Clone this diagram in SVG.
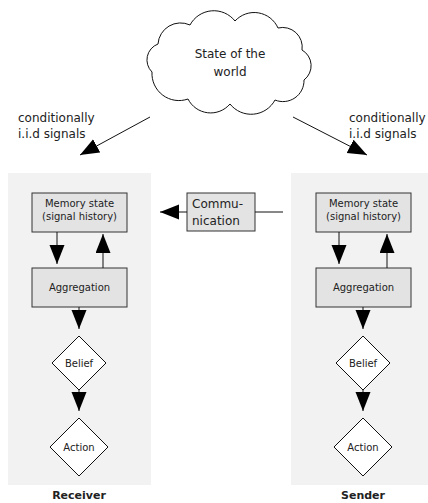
<svg xmlns="http://www.w3.org/2000/svg" width="428" height="503" viewBox="0 0 428 503">
<defs>
<style>
text{font-family:"DejaVu Sans","Liberation Sans",sans-serif;fill:#222;}
.panel{fill:#f2f2f2;stroke:none;}
.box{fill:#e3e3e3;stroke:#333;stroke-width:1;}
.dia{fill:#fff;stroke:#111;stroke-width:1;}
.cloud{fill:#fff;stroke:#111;stroke-width:1;}
.edge{stroke:#111;stroke-width:1;fill:none;}
.lbl{font-size:12px;}
.small{font-size:10px;}
.title{font-size:11px;font-weight:bold;}
</style>
<marker id="ah" markerUnits="userSpaceOnUse" markerWidth="20" markerHeight="16" refX="19" refY="7.5" orient="auto">
<path d="M0,0 L19,7.5 L0,15 z" fill="#000"/>
</marker>
</defs>
<rect class="panel" x="8" y="173" width="143" height="312"/>
<rect class="panel" x="291" y="173" width="137" height="312"/>
<g id="world">
<path class="cloud" d="M152,72 A17,17 0 0 1 158,44 A22.6,22.6 0 0 1 190,25 A27,27 0 0 1 235,21 A26,26 0 0 1 278,28 A19.6,19.6 0 0 1 302,50 A18,18 0 0 1 304,80 A21,21 0 0 1 275,100 A27,27 0 0 1 230,104 A25.4,25.4 0 0 1 188,99 A27,27 0 0 1 152,72 Z"/>
<text class="lbl" x="230" y="58" text-anchor="middle">State of the</text>
<text class="lbl" x="230" y="76" text-anchor="middle">world</text>
</g>
<g id="label-left">
<text class="lbl" x="18" y="122">conditionally</text>
<text class="lbl" x="18" y="138">i.i.d signals</text>
</g>
<g id="label-right">
<text class="lbl" x="349" y="122">conditionally</text>
<text class="lbl" x="349" y="138">i.i.d signals</text>
</g>
<g id="communication">
<rect class="box" x="187" y="193" width="68" height="38"/>
<text class="lbl" x="192" y="208">Commu-</text>
<text class="lbl" x="192" y="225">nication</text>
</g>
<g id="r-memory">
<rect class="box" x="32" y="193" width="95" height="39"/>
<text class="small" x="79.5" y="207" text-anchor="middle">Memory state</text>
<text class="small" x="79.5" y="220" text-anchor="middle">(signal history)</text>
</g>
<g id="r-aggregation">
<rect class="box" x="32" y="268" width="95" height="39"/>
<text class="small" x="79.5" y="291" text-anchor="middle">Aggregation</text>
</g>
<g id="r-belief">
<polygon class="dia" points="79,336 106,363 79,390 52,363"/>
<text class="small" x="79" y="366.5" text-anchor="middle">Belief</text>
</g>
<g id="r-action">
<polygon class="dia" points="79,418 108,447 79,476 50,447"/>
<text class="small" x="79" y="450.5" text-anchor="middle">Action</text>
</g>
<g id="s-memory">
<rect class="box" x="316" y="193" width="95" height="39"/>
<text class="small" x="363.5" y="207" text-anchor="middle">Memory state</text>
<text class="small" x="363.5" y="220" text-anchor="middle">(signal history)</text>
</g>
<g id="s-aggregation">
<rect class="box" x="316" y="268" width="95" height="39"/>
<text class="small" x="363.5" y="291" text-anchor="middle">Aggregation</text>
</g>
<g id="s-belief">
<polygon class="dia" points="363,336 390,363 363,390 336,363"/>
<text class="small" x="363" y="366.5" text-anchor="middle">Belief</text>
</g>
<g id="s-action">
<polygon class="dia" points="363,418 392,447 363,476 334,447"/>
<text class="small" x="363" y="450.5" text-anchor="middle">Action</text>
</g>
<g id="receiver-title"><text class="title" x="79" y="499" text-anchor="middle">Receiver</text></g>
<g id="sender-title"><text class="title" x="363" y="499" text-anchor="middle">Sender</text></g>
<g id="connectors">
<line class="edge" x1="150" y1="117" x2="80" y2="155" marker-end="url(#ah)"/>
<line class="edge" x1="293" y1="117" x2="367" y2="155" marker-end="url(#ah)"/>
<line class="edge" x1="187" y1="212" x2="160" y2="212" marker-end="url(#ah)"/>
<line class="edge" x1="255" y1="212" x2="283" y2="212"/>
<line class="edge" x1="57" y1="232" x2="57" y2="264" marker-end="url(#ah)"/>
<line class="edge" x1="103" y1="268" x2="103" y2="234" marker-end="url(#ah)"/>
<line class="edge" x1="79" y1="307" x2="79" y2="329" marker-end="url(#ah)"/>
<line class="edge" x1="79" y1="390" x2="79" y2="411" marker-end="url(#ah)"/>
<line class="edge" x1="339" y1="232" x2="339" y2="264" marker-end="url(#ah)"/>
<line class="edge" x1="387" y1="268" x2="387" y2="234" marker-end="url(#ah)"/>
<line class="edge" x1="363" y1="307" x2="363" y2="329" marker-end="url(#ah)"/>
<line class="edge" x1="363" y1="390" x2="363" y2="411" marker-end="url(#ah)"/>
</g>
</svg>
